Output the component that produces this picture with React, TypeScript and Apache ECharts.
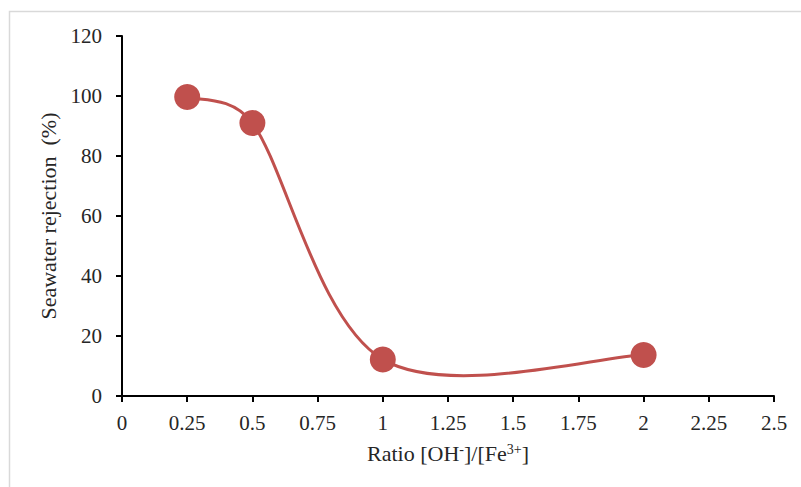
import React, { useEffect, useRef } from "react";
import * as echarts from "echarts";

const ratioValues = [0.25, 0.5, 1, 2];
const rejectionValues = [99.7, 91, 12.2, 13.7];
const xTicks = { min: 0, max: 2.5, interval: 0.25 };
const yTicks = { min: 0, max: 120, interval: 20 };

const RED = "#C0504D";
const FONT = "'Liberation Serif', 'Times New Roman', serif";
const TEXT = "#262626";

function tangents(P: number[][]) {
  // Excel-like smoothing: tangent (next - prev)
  const n = P.length;
  const tang: number[][] = [];
  for (let k = 0; k < n; k++) {
    const a = P[Math.max(0, k - 1)];
    const b = P[Math.min(n - 1, k + 1)];
    tang.push([b[0] - a[0], b[1] - a[1]]);
  }
  return tang;
}

export default function App() {
  const ref = useRef<HTMLDivElement>(null);
  useEffect(() => {
    if (!ref.current) return;
    const chart = echarts.init(ref.current, null, { renderer: "svg" });
    const data = ratioValues.map((x, i) => [x, rejectionValues[i]]);
    chart.setOption({
      animation: false,
      backgroundColor: "#ffffff",
      graphic: [
        {
          type: "rect",
          shape: { x: 9.5, y: 11.5, width: 900, height: 600 },
          style: { fill: "none", stroke: "#d9d9d9", lineWidth: 1.5 },
          z: 0,
        },
      ],
      grid: { left: 122, right: 27, top: 36, bottom: 91 },
      xAxis: {
        type: "value",
        min: xTicks.min,
        max: xTicks.max,
        interval: xTicks.interval,
        splitLine: { show: false },
        axisLine: { lineStyle: { color: "#000", width: 2 } },
        axisTick: { show: true, length: 6, lineStyle: { color: "#000", width: 2 } },
        axisLabel: { color: TEXT, fontFamily: FONT, fontSize: 21, margin: 16 },
        name: "Ratio [OH{sup|-}]/[Fe{sup|3+}]",
        nameLocation: "middle",
        nameGap: 46,
        nameTextStyle: {
          color: TEXT,
          fontFamily: FONT,
          fontSize: 22,
          rich: {
            sup: { fontFamily: FONT, fontSize: 14, verticalAlign: "top", padding: [0, 0, 9, 0], color: TEXT },
          },
        },
      },
      yAxis: {
        type: "value",
        min: yTicks.min,
        max: yTicks.max,
        interval: yTicks.interval,
        splitLine: { show: false },
        axisLine: { show: true, lineStyle: { color: "#000", width: 2 } },
        axisTick: { show: true, length: 6, lineStyle: { color: "#000", width: 2 } },
        axisLabel: { color: TEXT, fontFamily: FONT, fontSize: 21, margin: 20 },
        name: "Seawater rejection  (%)",
        nameLocation: "middle",
        nameRotate: 90,
        nameGap: 59,
        nameTextStyle: { color: TEXT, fontFamily: FONT, fontSize: 22 },
      },
      series: [
        {
          type: "custom",
          data: data,
          z: 2,
          silent: true,
          renderItem: (params: any, api: any) => {
            const i = params.dataIndex;
            if (i >= data.length - 1) return null;
            const P = data.map((d) => api.coord(d));
            const T = tangents(P);
            const p1 = P[i];
            const p2 = P[i + 1];
            const L = Math.hypot(p2[0] - p1[0], p2[1] - p1[1]);
            const t1 = T[i];
            const t2 = T[i + 1];
            const l1 = Math.hypot(t1[0], t1[1]) || 1;
            const l2 = Math.hypot(t2[0], t2[1]) || 1;
            const f1 = Math.min(l1 / 6, L / 2) / l1;
            const f2 = Math.min(l2 / 6, L / 2) / l2;
            return {
              type: "bezierCurve",
              shape: {
                x1: p1[0],
                y1: p1[1],
                cpx1: p1[0] + t1[0] * f1,
                cpy1: p1[1] + t1[1] * f1,
                cpx2: p2[0] - t2[0] * f2,
                cpy2: p2[1] - t2[1] * f2,
                x2: p2[0],
                y2: p2[1],
              },
              style: { stroke: RED, fill: "none", lineWidth: 3 },
            };
          },
        },
        {
          type: "scatter",
          data: data,
          z: 3,
          symbol: "circle",
          symbolSize: 26,
          itemStyle: { color: RED, opacity: 1 },
        },
      ],
    });
    return () => chart.dispose();
  }, []);
  return (
    <div
      ref={ref}
      style={{ position: "fixed", left: 0, top: 0, width: 801, height: 487, background: "#fff" }}
    />
  );
}
